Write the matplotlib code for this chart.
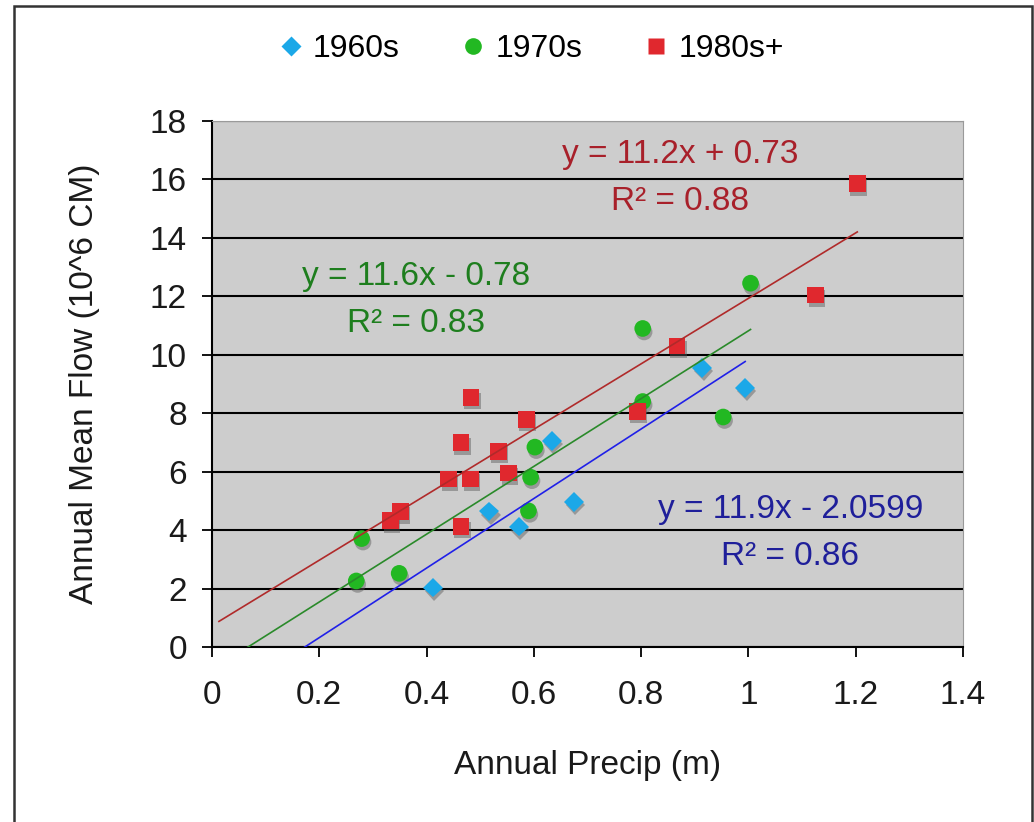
import numpy as np
import matplotlib
matplotlib.use("Agg")
import matplotlib.pyplot as plt
import matplotlib.patheffects as pe
from matplotlib.patches import Rectangle

# --- DATA ---
precip_60s = [0.412, 0.517, 0.572, 0.634, 0.675, 0.914, 0.994]
flow_60s = [2.03, 4.64, 4.12, 7.05, 4.97, 9.55, 8.87]

precip_70s = [0.269, 0.279, 0.349, 0.590, 0.594, 0.602, 0.803, 0.803, 0.953, 1.004]
flow_70s = [2.26, 3.71, 2.52, 4.66, 5.81, 6.84, 10.9, 8.4, 7.87, 12.45]

precip_80s = [0.333, 0.351, 0.441, 0.464, 0.464, 0.482, 0.483, 0.534, 0.553,
              0.586, 0.793, 0.867, 1.125, 1.203]
flow_80s = [4.32, 4.63, 5.75, 6.99, 4.12, 5.75, 8.54, 6.70, 5.95,
            7.78, 8.07, 10.3, 12.05, 15.85]

labels = ["1960s", "1970s", "1980s+"]
slopes = [11.9, 11.6, 11.2]
intercepts = [-2.0599, -0.78, 0.73]
eq_text = ["y = 11.9x - 2.0599", "y = 11.6x - 0.78", "y = 11.2x + 0.73"]
r2_text = ["R² = 0.86", "R² = 0.83", "R² = 0.88"]
BACK_FORECAST = 0.32

x_ticks = [0, 0.2, 0.4, 0.6, 0.8, 1.0, 1.2, 1.4]
x_tick_labels = ["0", "0.2", "0.4", "0.6", "0.8", "1", "1.2", "1.4"]
y_ticks = list(range(0, 19, 2))

# --- STYLE ---
plt.rcParams['font.family'] = ['Liberation Sans', 'DejaVu Sans']
FS = 24
marker_colors = ['#1BA8E8', '#22B822', '#E0282E']
markers = ['D', 'o', 's']
marker_sizes = [10, 12, 12]
line_colors = ['#2020E8', '#2A8A2A', '#B02A2A']
text_colors = ['#1F1F9A', '#1E7E1E', '#A8202A']
# (x centre, baseline of equation line, baseline of R² line) in data units
eq_pos = [(1.078, 4.41, 2.81), (0.381, 12.39, 10.78), (0.873, 16.56, 14.96)]

fig = plt.figure(figsize=(10.34, 8.22), dpi=100)
ax = fig.add_axes([0.205, 0.2129, 0.7263, 0.6399])
ax.set_facecolor('#CDCDCD')

shadow = [pe.SimplePatchShadow(offset=(1, -2.5), shadow_rgbFace='0.35', alpha=0.45), pe.Normal()]

series = [(precip_60s, flow_60s), (precip_70s, flow_70s), (precip_80s, flow_80s)]
for i, (xs, ys) in enumerate(series):
    ax.plot(xs, ys, ls='none', marker=markers[i], ms=marker_sizes[i],
            mfc=marker_colors[i], mec='none', label=labels[i],
            path_effects=shadow, zorder=3)
    x_line = np.array([min(xs) - BACK_FORECAST, max(xs)])
    ax.plot(x_line, slopes[i] * x_line + intercepts[i], color=line_colors[i],
            lw=1.2, zorder=4)
    cx, y1, y2 = eq_pos[i]
    ax.text(cx, y1, eq_text[i], color=text_colors[i], fontsize=FS,
            ha='center', va='baseline', zorder=5)
    ax.text(cx, y2, r2_text[i], color=text_colors[i], fontsize=FS,
            ha='center', va='baseline', zorder=5)

ax.set_xlim(0, 1.4)
ax.set_ylim(0, 18)
ax.set_xticks(x_ticks)
ax.set_xticklabels(x_tick_labels)
ax.set_yticks(y_ticks)
ax.tick_params(axis='both', labelsize=FS, direction='out', length=7,
               width=1.3, color='black', labelcolor='#1a1a1a')
ax.tick_params(axis='y', pad=11)
ax.tick_params(axis='x', pad=17)
ax.grid(axis='y', color='black', lw=1.5, zorder=1)
ax.set_axisbelow(True)

for s in ['left', 'bottom']:
    ax.spines[s].set_color('black')
    ax.spines[s].set_linewidth(1.5)
for s in ['top', 'right']:
    ax.spines[s].set_color('#9a9a9a')
    ax.spines[s].set_linewidth(0.8)

ax.set_xlabel('Annual Precip (m)', fontsize=FS, color='#1a1a1a', labelpad=28)
ax.set_ylabel('Annual Mean Flow (10^6 CM)', fontsize=FS, color='#1a1a1a', labelpad=36)

leg = fig.legend(loc='center', bbox_to_anchor=(0.512, 0.94), ncol=3, frameon=False,
                 fontsize=23, markerscale=1.0, handletextpad=0.2, columnspacing=1.8,
                 handlelength=1.0)
for h in leg.legend_handles:
    h.set_path_effects([])

# outer chart frame
fig.patches.append(Rectangle((0.0135, -0.1), 0.985, 1.0927, transform=fig.transFigure,
                             fill=False, ec='#333333', lw=1.8))

fig.savefig('out.png', dpi=100)
